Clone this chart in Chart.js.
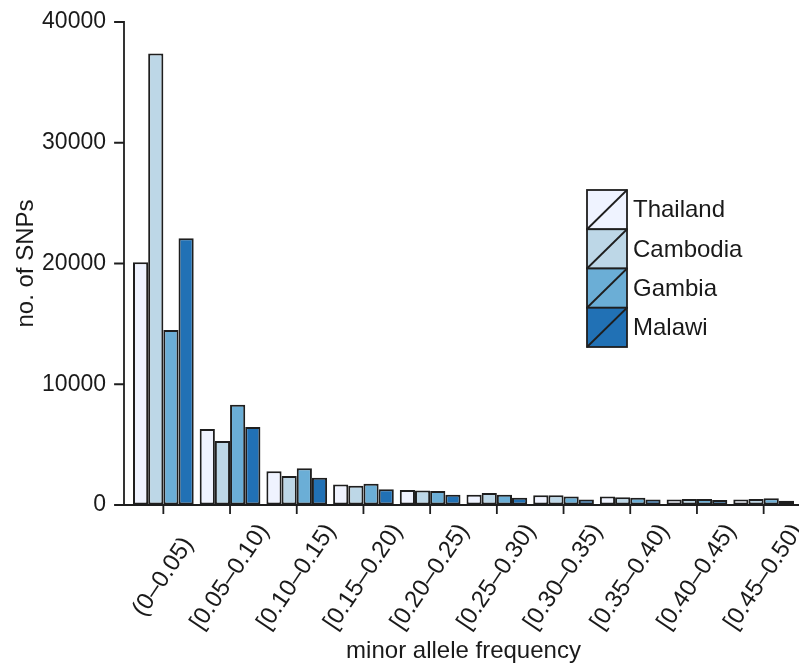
<!DOCTYPE html>
<html>
<head>
<meta charset="utf-8">
<title>Minor allele frequency spectrum</title>
<script src="https://cdn.jsdelivr.net/npm/chart.js@4/dist/chart.umd.min.js"></script>
<style>
  html, body { margin: 0; padding: 0; background: #ffffff; }
  #wrap { width: 799px; height: 666px; }
</style>
</head>
<body>
<div id="wrap"><canvas id="maf" width="799" height="666"></canvas></div>
<script>
// Minor allele frequency bins
const categories = [
  '(0–0.05)', '[0.05–0.10)', '[0.10–0.15)', '[0.15–0.20)', '[0.20–0.25)',
  '[0.25–0.30)', '[0.30–0.35)', '[0.35–0.40)', '[0.40–0.45)', '[0.45–0.50)'
];

// Number of SNPs per bin, by population
const thailand = [20100, 6300, 2800, 1700, 1250, 850, 800, 700, 450, 450];
const cambodia = [37400, 5300, 2400, 1600, 1200, 1000, 800, 650, 500, 500];
const gambia   = [14500, 8300, 3050, 1750, 1150, 850, 700, 600, 500, 550];
const malawi   = [22100, 6450, 2250, 1300, 850, 600, 450, 450, 420, 350];

const populations = ['Thailand', 'Cambodia', 'Gambia', 'Malawi'];
const yTicks = [0, 10000, 20000, 30000, 40000];

const fills = ['#eff3ff', '#bdd7e7', '#6baed6', '#2171b5'];
const ink = '#1e1e1e';
const textColor = '#1a1a1a';
const fontFamily = '"Liberation Sans", Arial, Helvetica, sans-serif';

// Axis lines, tick marks and the slanted bin labels
const axesPlugin = {
  id: 'axesLines',
  afterDatasetsDraw(chart) {
    const { ctx, chartArea, scales } = chart;
    const x = scales.x, y = scales.y;
    const ax = chartArea.left - 6;
    const y0 = y.getPixelForValue(0);
    const yTop = y.getPixelForValue(yTicks[yTicks.length - 1]);
    ctx.save();
    ctx.strokeStyle = ink;
    ctx.lineWidth = 1.8;
    ctx.lineCap = 'square';
    ctx.beginPath();
    ctx.moveTo(ax, yTop);
    ctx.lineTo(ax, y0);
    ctx.lineTo(chartArea.right + 2, y0);
    yTicks.forEach(v => {
      const py = y.getPixelForValue(v);
      ctx.moveTo(ax - 9, py);
      ctx.lineTo(ax, py);
    });
    categories.forEach((c, i) => {
      const px = x.getPixelForValue(i);
      ctx.moveTo(px, y0);
      ctx.lineTo(px, y0 + 8);
    });
    ctx.stroke();

    // bin labels, centred under each tick and slanted upward
    ctx.fillStyle = textColor;
    ctx.font = '24px ' + fontFamily;
    ctx.textAlign = 'center';
    ctx.textBaseline = 'middle';
    categories.forEach((c, i) => {
      const px = x.getPixelForValue(i);
      ctx.save();
      ctx.translate(px, y0 + 72);
      ctx.rotate(-56 * Math.PI / 180);
      ctx.fillText(c, 0, 0);
      ctx.restore();
    });
    ctx.restore();
  }
};

// Stacked-swatch legend with a diagonal through each swatch
const legendPlugin = {
  id: 'swatchLegend',
  afterDraw(chart) {
    const { ctx } = chart;
    const left = 587, top = 190, w = 40, h = 39.25;
    ctx.save();
    chart.data.datasets.forEach((ds, i) => {
      const t = top + i * h;
      ctx.fillStyle = ds.backgroundColor;
      ctx.fillRect(left, t, w, h);
      ctx.strokeStyle = ink;
      ctx.lineWidth = 1.8;
      ctx.strokeRect(left, t, w, h);
      ctx.beginPath();
      ctx.moveTo(left, t + h);
      ctx.lineTo(left + w, t);
      ctx.stroke();
      ctx.fillStyle = textColor;
      ctx.font = '24px ' + fontFamily;
      ctx.textAlign = 'left';
      ctx.textBaseline = 'middle';
      ctx.fillText(ds.label, left + w + 6, t + h / 2 + 1);
    });
    ctx.restore();
  }
};

const seriesValues = [thailand, cambodia, gambia, malawi];

new Chart(document.getElementById('maf'), {
  type: 'bar',
  data: {
    labels: categories,
    datasets: populations.map((name, i) => ({
      label: name,
      data: seriesValues[i],
      backgroundColor: fills[i],
      borderColor: ink,
      borderWidth: 2,
      borderSkipped: false,
      categoryPercentage: 0.91,
      barPercentage: 1.0
    }))
  },
  options: {
    responsive: false,
    animation: false,
    devicePixelRatio: 1,
    layout: { padding: { top: 22, right: 2, left: 0, bottom: 0 } },
    plugins: {
      legend: { display: false },
      tooltip: { enabled: false }
    },
    scales: {
      x: {
        type: 'category',
        offset: true,
        grid: { display: false },
        border: { display: false },
        ticks: { display: false },
        title: {
          display: true,
          text: 'minor allele frequency',
          color: textColor,
          font: { family: fontFamily, size: 24 },
          padding: { top: 0, bottom: 0 }
        },
        afterFit(scale) {
          scale.height = 161;
          scale.paddingLeft = 0;
          scale.paddingRight = 0;
        }
      },
      y: {
        min: 0,
        max: yTicks[yTicks.length - 1],
        grid: { display: true, drawOnChartArea: false, drawTicks: false, color: 'rgba(0,0,0,0)' },
        border: { display: false },
        afterBuildTicks(scale) { scale.ticks = yTicks.map(v => ({ value: v })); },
        ticks: {
          padding: 24,
          color: textColor,
          font: { family: fontFamily, size: 23 },
          callback: v => String(v)
        },
        title: {
          display: true,
          text: 'no. of SNPs',
          color: textColor,
          font: { family: fontFamily, size: 24 },
          padding: { top: 12, bottom: 0 }
        },
        afterFit(scale) {
          scale.width = 130;
          scale.paddingTop = 0;
          scale.paddingBottom = 0;
        }
      }
    }
  },
  plugins: [axesPlugin, legendPlugin]
});
</script>
</body>
</html>
